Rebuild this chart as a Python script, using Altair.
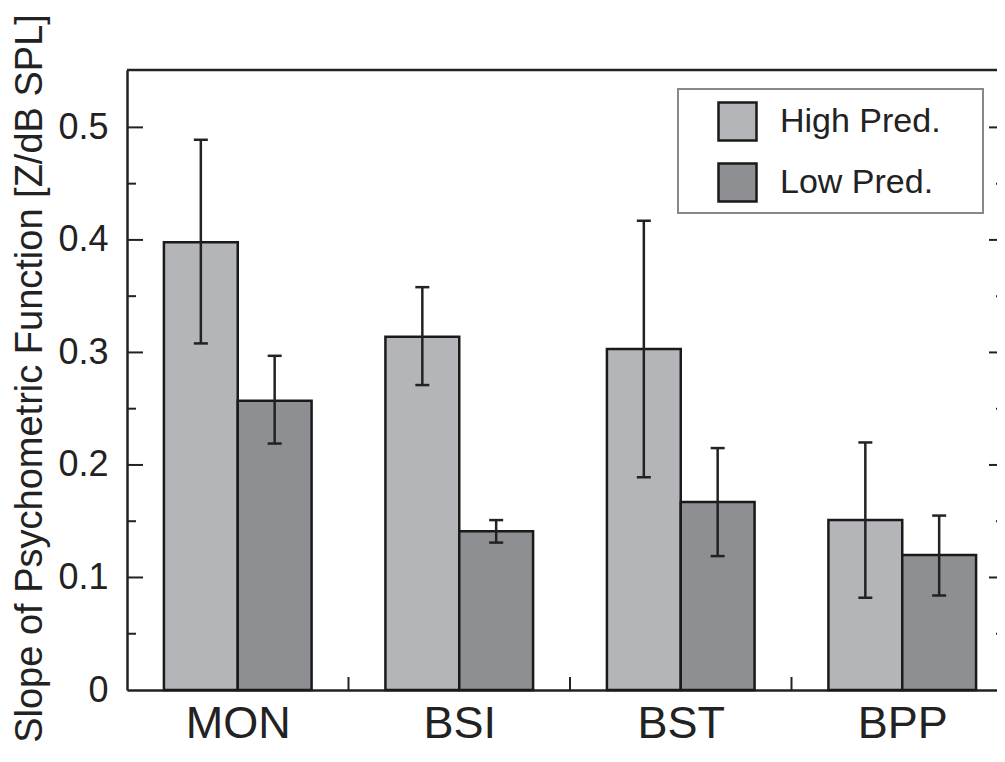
import altair as alt
import pandas as pd

# ---- data ----
categories = ["MON", "BSI", "BST", "BPP"]
series = ["High Pred.", "Low Pred."]
high_mean = [0.398, 0.314, 0.303, 0.151]
high_lo = [0.308, 0.271, 0.189, 0.082]
high_hi = [0.489, 0.358, 0.417, 0.220]
low_mean = [0.257, 0.141, 0.167, 0.120]
low_lo = [0.219, 0.131, 0.119, 0.084]
low_hi = [0.297, 0.151, 0.215, 0.155]
y_label_values = [0, 0.1, 0.2, 0.3, 0.4, 0.5]
y_major = [0.1, 0.2, 0.3, 0.4, 0.5]
y_minor = [0.05, 0.15, 0.25, 0.35, 0.45]

# ---- build tables ----
means = [high_mean, low_mean]
los = [high_lo, low_lo]
his = [high_hi, low_hi]
rows, caps = [], []
for i, c in enumerate(categories):
    for s in range(len(series)):
        x0 = i + 1 / 6 + s / 3
        r = dict(cat=c, series=series[s], x0=x0, x1=x0 + 1 / 3, xc=x0 + 1 / 6,
                 mean=means[s][i], lo=los[s][i], hi=his[s][i])
        rows.append(r)
        caps.append(dict(xc=r["xc"], v=r["lo"]))
        caps.append(dict(xc=r["xc"], v=r["hi"]))
df = pd.DataFrame(rows)
capdf = pd.DataFrame(caps)
major_df = pd.DataFrame({"v": y_major})
minor_df = pd.DataFrame({"v": y_minor})
bound_df = pd.DataFrame({"b": list(range(1, len(categories)))})
one_df = pd.DataFrame({"k": [0]})

W, H = 870, 620
GROUP_PX = 221.5  # the frame continues past the right edge of the picture
INK = "#222222"
FONT = "Liberation Sans"

xs = alt.Scale(domain=[0, W / GROUP_PX], nice=False, zero=False)
ys = alt.Scale(domain=[0, 0.551], nice=False)

label_expr = "[" + ",".join("'%s'" % c for c in categories) + "][floor(datum.value)]"
xaxis = alt.Axis(values=[i + 0.5 for i in range(len(categories))], labelExpr=label_expr,
                 title=None, grid=False, ticks=False, tickSize=0, domainColor=INK,
                 domainWidth=2.5, labelFontSize=45, labelColor=INK, labelFont=FONT,
                 labelBaseline="alphabetic", labelPadding=47)
yaxis = alt.Axis(values=y_label_values, format=".1~f", title="Slope of Psychometric Function [Z/dB SPL]",
                 grid=False, ticks=False, tickSize=0, domainColor=INK, domainWidth=2.5,
                 labelFontSize=36, labelColor=INK, labelFont=FONT, labelPadding=19,
                 titleFontSize=38, titleFontWeight="normal", titleColor=INK, titleFont=FONT,
                 titleAngle=270, titleBaseline="alphabetic", titleAlign="center",
                 titleX=-86, titleY=308, titleLimit=1000)

legend = alt.Legend(title=None, orient="none", legendX=551, legendY=19, padding=12,
                    symbolOffset=27, symbolType="square", symbolSize=1444,
                    symbolStrokeColor="#1a1a1a", symbolStrokeWidth=2.5,
                    labelFontSize=34, labelFont=FONT, labelColor=INK, labelOffset=22,
                    labelLimit=400, rowPadding=12, strokeColor="transparent",
                    fillColor="transparent")

legend_box = alt.Chart(one_df).mark_rect(fill="white", stroke="#888888", strokeWidth=2).encode(
    x=alt.value(551), x2=alt.value(856), y=alt.value(19), y2=alt.value(143))

bars = alt.Chart(df).mark_bar(stroke="#1a1a1a", strokeWidth=2.5).encode(
    x=alt.X("x0:Q", scale=xs, axis=xaxis),
    x2="x1:Q",
    y=alt.Y("mean:Q", scale=ys, axis=yaxis),
    y2=alt.datum(0),
    fill=alt.Color("series:N", scale=alt.Scale(domain=series, range=["#b4b5b9", "#8e8f93"]),
                   legend=legend),
)

err = alt.Chart(df).mark_rule(color=INK, strokeWidth=2.5).encode(
    x=alt.X("xc:Q", scale=xs, axis=xaxis),
    y=alt.Y("lo:Q", scale=ys, axis=yaxis),
    y2="hi:Q",
)

cap = alt.Chart(capdf).mark_tick(orient="horizontal", size=14, thickness=2.5, color=INK, opacity=1).encode(
    x=alt.X("xc:Q", scale=xs, axis=xaxis),
    y=alt.Y("v:Q", scale=ys, axis=yaxis),
)

def ytick(data, xa, xb):
    return alt.Chart(data).mark_rule(color=INK, strokeWidth=2).encode(
        y=alt.Y("v:Q", scale=ys, axis=yaxis), x=alt.value(xa), x2=alt.value(xb))

lt_major = ytick(major_df, 0, 16)
lt_minor = ytick(minor_df, 0, 9)
rt_major = ytick(major_df, W - 8, W + 8)
rt_minor = ytick(minor_df, W - 1, W + 8)

bticks = alt.Chart(bound_df).mark_rule(color=INK, strokeWidth=2).encode(
    x=alt.X("b:Q", scale=xs, axis=xaxis), y=alt.value(H - 13), y2=alt.value(H))

top_line = alt.Chart(one_df).mark_rule(color=INK, strokeWidth=2.5).encode(
    x=alt.value(0), x2=alt.value(W + 8), y=alt.value(0))

chart = alt.layer(legend_box, bars, err, cap, lt_major, lt_minor, rt_major, rt_minor, bticks, top_line).properties(
    width=W, height=H, autosize="none",
    padding={"left": 119, "top": 62, "right": 0, "bottom": 58},
).configure_view(stroke="transparent").configure(font=FONT)

chart.save("out.html", embed_options={"renderer": "svg", "actions": False})
